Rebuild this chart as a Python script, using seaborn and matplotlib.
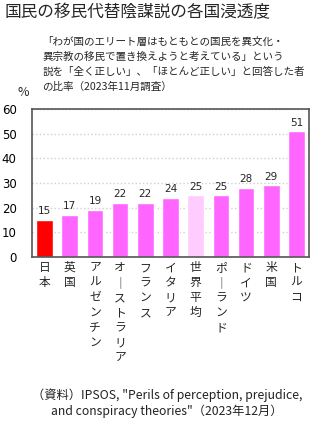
import matplotlib
matplotlib.use("Agg")
import matplotlib.pyplot as plt
import seaborn as sns
import pandas as pd

countries = ["日本", "英国", "アルゼンチン", "オーストラリア", "フランス", "イタリア",
             "世界平均", "ポーランド", "ドイツ", "米国", "トルコ"]
values = [15, 17, 19, 22, 22, 24, 25, 25, 28, 29, 51]
colors = ["#FF0000"] + ["#FF66FF"] * 5 + ["#FFCCFF"] + ["#FF66FF"] * 4
yticks = [0, 10, 20, 30, 40, 50, 60]

sns.set_theme(style="white")
plt.rcParams['font.family'] = ['Noto Sans CJK JP', 'DejaVu Sans']

df = pd.DataFrame({"country": countries, "value": values})

fig = plt.figure(figsize=(3.24, 4.44), dpi=100)
ax = fig.add_axes([0.0988, 0.4212, 0.855, 0.3333])
sns.barplot(data=df, x="country", y="value", hue="country", palette=colors,
            legend=False, width=0.66, ax=ax, saturation=1)
ax.set_ylim(0, 60)
ax.set_yticks(yticks)
ax.set_yticklabels([str(t) for t in yticks], fontsize=8.5, family=['DejaVu Sans'])
ax.yaxis.grid(True, color="#d0d0d0", linestyle=":", linewidth=1.0)
ax.set_axisbelow(True)
for s in ax.spines.values():
    s.set_color("#555555")
    s.set_linewidth(1.2)
ax.tick_params(axis='y', length=0, pad=11, colors="black")
ax.tick_params(axis='x', length=0, pad=3)
ax.set_xlabel("")
ax.set_ylabel("")

def vert(s):
    return "\n".join("｜" if c == "ー" else c for c in s)

ax.set_xticks(range(len(countries)))
ax.set_xticklabels([vert(c) for c in countries], fontsize=8.5, va="top",
                   linespacing=1.2)

for i, v in enumerate(values):
    ax.text(i, v + 1.5, str(v), ha="center", va="bottom", fontsize=7.5,
            family=['DejaVu Sans'])

fig.text(0.015, 0.972, "国民の移民代替陰謀説の各国浸透度", fontsize=12, va="center", ha="left")
sub = ("「わが国のエリート層はもともとの国民を異文化・\n"
       "異宗教の移民で置き換えようと考えている」という\n"
       "説を「全く正しい」、「ほとんど正しい」と回答した者\n"
       "の比率（2023年11月調査）")
fig.text(0.13, 0.917, sub, fontsize=7.6, va="top", ha="left", linespacing=1.6)
fig.text(0.055, 0.792, "%", fontsize=9, va="center", ha="left")
fig.text(0.515, 0.091, "（資料）IPSOS, \"Perils of perception, prejudice,\n"
         "and conspiracy theories\"（2023年12月）", fontsize=8.8, ha="center",
         va="center", linespacing=1.25, color="#222222")

fig.savefig("out.png", dpi=100)
